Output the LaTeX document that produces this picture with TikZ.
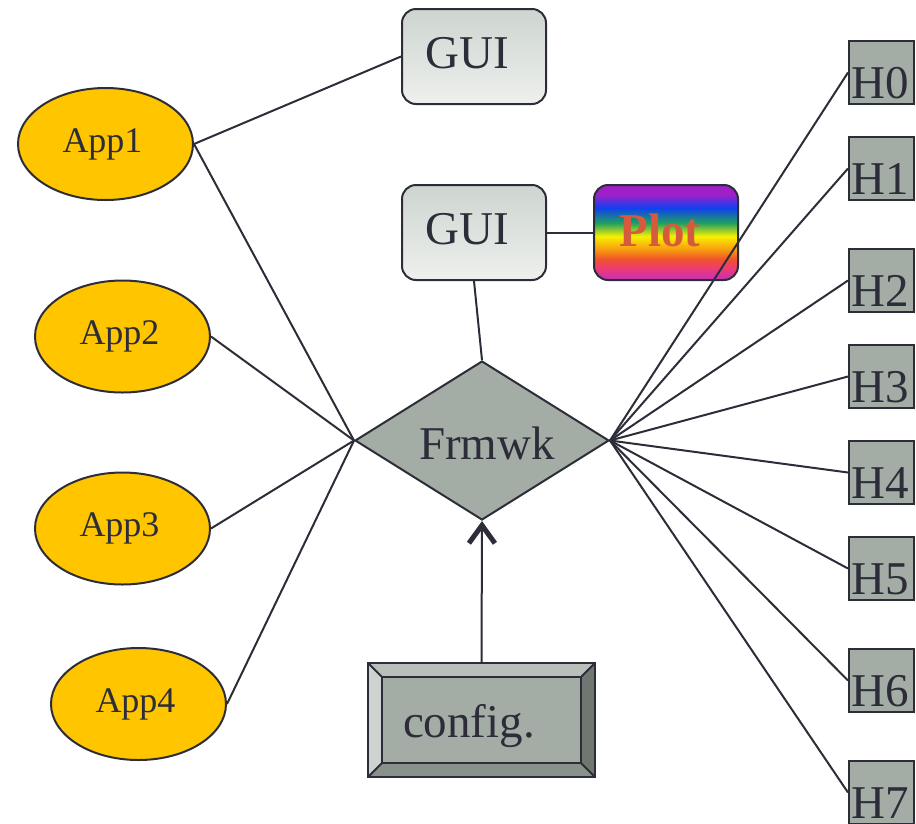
\documentclass[tikz,border=0pt]{standalone}
\usepackage{fontspec}
\setmainfont{Liberation Serif}
\usetikzlibrary{shapes.geometric,arrows.meta,calc}

\definecolor{ink}{HTML}{2C2D38}
\definecolor{appgold}{HTML}{FFC600}
\definecolor{face}{HTML}{A4ACA6}
\definecolor{guitop}{HTML}{CDD5D0}
\definecolor{guibot}{HTML}{EEF0EE}
\definecolor{bevtop}{HTML}{B8C0B9}
\definecolor{bevleft}{HTML}{CDD3CF}
\definecolor{bevright}{HTML}{6E7870}
\definecolor{bevbot}{HTML}{88918A}
\definecolor{plottext}{HTML}{D65A3C}
\definecolor{pmag}{HTML}{C030B8}
\definecolor{ppink}{HTML}{EE3A78}
\definecolor{pred}{HTML}{F0522C}
\definecolor{porange}{HTML}{F89A10}
\definecolor{pyellow}{HTML}{F8F000}
\definecolor{pgreen}{HTML}{20A060}
\definecolor{pblue}{HTML}{1040F0}
\definecolor{ppurple}{HTML}{A020C8}

\pgfdeclareverticalshading{rainbowplot}{100bp}{%
  color(0bp)=(pmag); color(25bp)=(pmag); color(31bp)=(ppink);
  color(36bp)=(pred); color(41bp)=(porange); color(48bp)=(pyellow);
  color(55bp)=(pgreen); color(63bp)=(pblue); color(70bp)=(ppurple);
  color(100bp)=(ppurple)}

% label text placed by offset: #1 = twice the horizontal shift, #2 = raise of the baseline
\newcommand\placedtext[3]{\makebox[0pt]{\kern#1\smash{\raisebox{#2}{#3}}}}

\tikzset{
  big/.style={font=\fontsize{47pt}{50pt}\selectfont, text=ink},
  conn/.style={draw=ink, line width=2pt},
  app/.style={ellipse, fill=appgold, draw=ink, line width=2pt,
    minimum width=175pt, minimum height=112pt, inner sep=0pt,
    font=\fontsize{36pt}{40pt}\selectfont, text=ink},
  gui/.style={rectangle, rounded corners=14pt, top color=guitop, bottom color=guibot,
    draw=ink, line width=2pt, minimum width=144pt, minimum height=95pt, inner sep=0pt, big},
  plotbox/.style={rectangle, rounded corners=14pt, shading=rainbowplot,
    draw=ink, line width=2pt, minimum width=144pt, minimum height=95pt, inner sep=0pt,
    font=\fontsize{47pt}{50pt}\selectfont\bfseries, text=plottext},
  hostbox/.style={rectangle, fill=face, draw=ink, line width=2pt,
    minimum width=65pt, minimum height=63pt, inner sep=0pt, big},
  core/.style={diamond, fill=face, draw=ink, line width=2pt,
    minimum width=254pt, minimum height=159pt, inner sep=0pt, big},
  cfgbox/.style={rectangle, fill=face, draw=ink, line width=2pt,
    minimum width=225pt, minimum height=112pt, inner sep=0pt, big},
  chevron/.style={-{Straight Barb[length=18pt,width=26pt,line width=5pt]}},
}

\begin{document}
\begin{tikzpicture}[x=1pt,y=-1pt]
\useasboundingbox (0,0) rectangle (916,823);

% applications
\node[app] (app1) at (105.5,144) {\placedtext{-6pt}{-8pt}{App1}};
\node[app] (app2) at (122.5,336.5) {\placedtext{-6pt}{-8pt}{App2}};
\node[app] (app3) at (122.5,528.5) {\placedtext{-6pt}{-8pt}{App3}};
\node[app] (app4) at (138.5,704) {\placedtext{-6pt}{-8pt}{App4}};

% front ends
\node[gui] (gui1) at (474,56.5) {\placedtext{-13pt}{-11.5pt}{GUI}};
\node[gui] (gui2) at (474,232.5) {\placedtext{-13pt}{-11.5pt}{GUI}};
\node[plotbox] (plot) at (666,232.5) {\placedtext{-12pt}{-13.5pt}{Plot}};

% framework core
\node[core] (frmwk) at (482,440.5) {\placedtext{10pt}{-18.5pt}{Frmwk}};

% configuration block with bevelled frame
\node[cfgbox] (config) at (481.5,720) {\placedtext{-25pt}{-17pt}{config.}};
\fill[bevtop] (config.north west) -- (config.north east)
  -- ($(config.north east)+(-14,14)$) -- ($(config.north west)+(14,14)$) -- cycle;
\fill[bevleft] (config.north west) -- ($(config.north west)+(14,14)$)
  -- ($(config.south west)+(14,-14)$) -- (config.south west) -- cycle;
\fill[bevright] (config.north east) -- ($(config.north east)+(-14,14)$)
  -- ($(config.south east)+(-14,-14)$) -- (config.south east) -- cycle;
\fill[bevbot] (config.south west) -- ($(config.south west)+(14,-14)$)
  -- ($(config.south east)+(-14,-14)$) -- (config.south east) -- cycle;
\draw[conn] (config.north west) rectangle (config.south east);
\draw[conn] ($(config.north west)+(14,14)$) rectangle ($(config.south east)+(-14,-14)$);
\draw[conn] (config.north west) -- ++(14,14);
\draw[conn] (config.north east) -- ++(-14,14);
\draw[conn] (config.south west) -- ++(14,-14);
\draw[conn] (config.south east) -- ++(-14,-14);

% hosts
\foreach \i/\t in {0/41,1/137,2/249,3/345,4/441,5/537,6/649,7/761}{
  \node[hostbox] (h\i) at (881.5,\t+31.5) {\placedtext{-2pt}{-25.5pt}{H\i}};
}

% connectors
\draw[conn] (app1.east) -- (gui1.west);
\foreach \a in {app1,app2,app3,app4}{
  \draw[conn] (\a.east) -- (frmwk.west);
}
\draw[conn] (gui2.south) -- (frmwk.north);
\draw[conn] (gui2.east) -- (plot.west);
\foreach \i in {0,...,7}{
  \draw[conn] (frmwk.east) -- (h\i.west);
}
\draw[conn, chevron] (config.north) -- (frmwk.south);
\end{tikzpicture}
\end{document}
